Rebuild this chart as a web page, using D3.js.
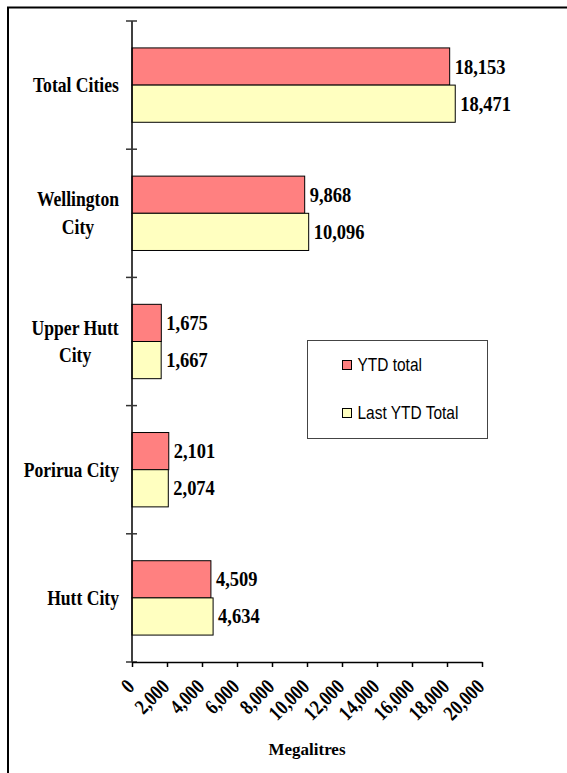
<!DOCTYPE html>
<html>
<head>
<meta charset="utf-8">
<script src="https://cdn.jsdelivr.net/npm/d3@7"></script>
<style>
  body { margin: 0; background: #fff; }
  svg { display: block; }
  .serif { font-family: 'Liberation Serif', 'Times New Roman', serif; font-weight: bold; fill: #000; }
  .sans { font-family: 'Liberation Sans', Arial, sans-serif; fill: #000; }
</style>
</head>
<body>
<svg width="567" height="773"></svg>
<script>
// Chart data
const categories = ['Total Cities', 'Wellington City', 'Upper Hutt City', 'Porirua City', 'Hutt City']
const categoryLines = [['Total Cities'], ['Wellington', 'City'], ['Upper Hutt', 'City'], ['Porirua City'], ['Hutt City']]
const seriesNames = ['YTD total', 'Last YTD Total']
const ytdTotal = [18153, 9868, 1675, 2101, 4509]
const lastYtdTotal = [18471, 10096, 1667, 2074, 4634]
const xTicks = [0, 2000, 4000, 6000, 8000, 10000, 12000, 14000, 16000, 18000, 20000]
const colors = ['#ff8080', '#ffffc0']

const svg = d3.select('svg')

// outer frame (runs off the right and bottom edges)
svg.append('rect')
  .attr('x', 8).attr('y', 7.5)
  .attr('width', 700).attr('height', 900)
  .attr('fill', 'none').attr('stroke', '#000').attr('stroke-width', 2)

const x = d3.scaleLinear().domain([0, 20000]).range([132, 482])
const y = d3.scaleBand().domain(categories).range([21, 662])
  .paddingInner(0.42).paddingOuter(0.21)
const sub = d3.scaleBand().domain(seriesNames).range([0, y.bandwidth()])
const fmt = d3.format(',')

const rows = categories.map((c, i) => ({
  name: c,
  lines: categoryLines[i],
  values: [ytdTotal[i], lastYtdTotal[i]]
}))

// bars
const groups = svg.append('g').selectAll('g')
  .data(rows)
  .join('g')
  .attr('transform', d => `translate(0,${y(d.name)})`)

groups.selectAll('rect')
  .data(d => d.values.map((v, j) => ({ v, s: seriesNames[j], j })))
  .join('rect')
  .attr('x', x(0))
  .attr('y', d => sub(d.s))
  .attr('width', d => x(d.v) - x(0))
  .attr('height', sub.bandwidth())
  .attr('fill', d => colors[d.j])
  .attr('stroke', '#000')
  .attr('stroke-width', 1)

// value labels
groups.selectAll('text')
  .data(d => d.values.map((v, j) => ({ v, s: seriesNames[j] })))
  .join('text')
  .attr('class', 'serif')
  .attr('font-size', 22)
  .attr('transform', d => `translate(${x(d.v) + 5},${sub(d.s) + sub.bandwidth() / 2 + 7}) scale(0.84,1)`)
  .text(d => fmt(d.v))

// y axis line and category ticks
svg.append('line')
  .attr('x1', x(0)).attr('x2', x(0))
  .attr('y1', y.range()[0]).attr('y2', y.range()[1])
  .attr('stroke', '#000').attr('stroke-width', 1.5)

const boundaries = d3.range(categories.length + 1).map(i => y.range()[0] + i * y.step())
svg.append('g').selectAll('line')
  .data(boundaries)
  .join('line')
  .attr('x1', x(0) - 6).attr('x2', x(0) + 5)
  .attr('y1', d => d).attr('y2', d => d)
  .attr('stroke', '#333').attr('stroke-width', 1.5)

// category labels, lines centred on each other, right edge near the axis
const catSx = 0.8
const lineH = 28
svg.append('g').selectAll('text')
  .data(rows)
  .join('text')
  .attr('class', 'serif')
  .attr('font-size', 22)
  .attr('text-anchor', 'middle')
  .each(function (d) {
    const t = d3.select(this)
    d.lines.forEach((l, k) => {
      t.append('tspan')
        .attr('x', 0)
        .attr('y', (k - (d.lines.length - 1) / 2) * lineH + 7)
        .text(l)
    })
    const w = this.getBBox().width * catSx
    const cy = y(d.name) + y.bandwidth() / 2
    t.attr('transform', `translate(${119 - w / 2},${cy}) scale(${catSx},1)`)
  })

// x axis
const xAxis = svg.append('g')
  .attr('transform', `translate(0,${y.range()[1]})`)
  .call(d3.axisBottom(x).tickValues(xTicks).tickSize(5).tickSizeOuter(0).tickFormat(fmt))

xAxis.select('.domain').attr('stroke', '#000').attr('stroke-width', 1.5)
xAxis.selectAll('.tick line').attr('stroke', '#000').attr('stroke-width', 1.5)
xAxis.selectAll('.tick text')
  .attr('class', 'serif')
  .attr('font-size', 21)
  .attr('text-anchor', 'end')
  .attr('dy', null)
  .attr('y', null)
  .attr('transform', 'translate(3,26) rotate(-45) scale(0.82,1)')

svg.append('text')
  .attr('class', 'serif')
  .attr('font-size', 17)
  .attr('text-anchor', 'middle')
  .attr('x', (x.range()[0] + x.range()[1]) / 2)
  .attr('y', 755)
  .text('Megalitres')

// legend
const legend = svg.append('g').attr('transform', 'translate(307.5,340.5)')
legend.append('rect')
  .attr('width', 180).attr('height', 98)
  .attr('fill', '#fff').attr('stroke', '#444').attr('stroke-width', 1)

const items = legend.selectAll('g.item')
  .data(seriesNames)
  .join('g')
  .attr('class', 'item')
  .attr('transform', (d, i) => `translate(35,${20 + i * 48})`)

items.append('rect')
  .attr('width', 9).attr('height', 9)
  .attr('fill', (d, i) => colors[i])
  .attr('stroke', '#000').attr('stroke-width', 1)

items.append('text')
  .attr('class', 'sans')
  .attr('font-size', 18)
  .attr('transform', 'translate(15,10) scale(0.86,1)')
  .text(d => d)
</script>
</body>
</html>
